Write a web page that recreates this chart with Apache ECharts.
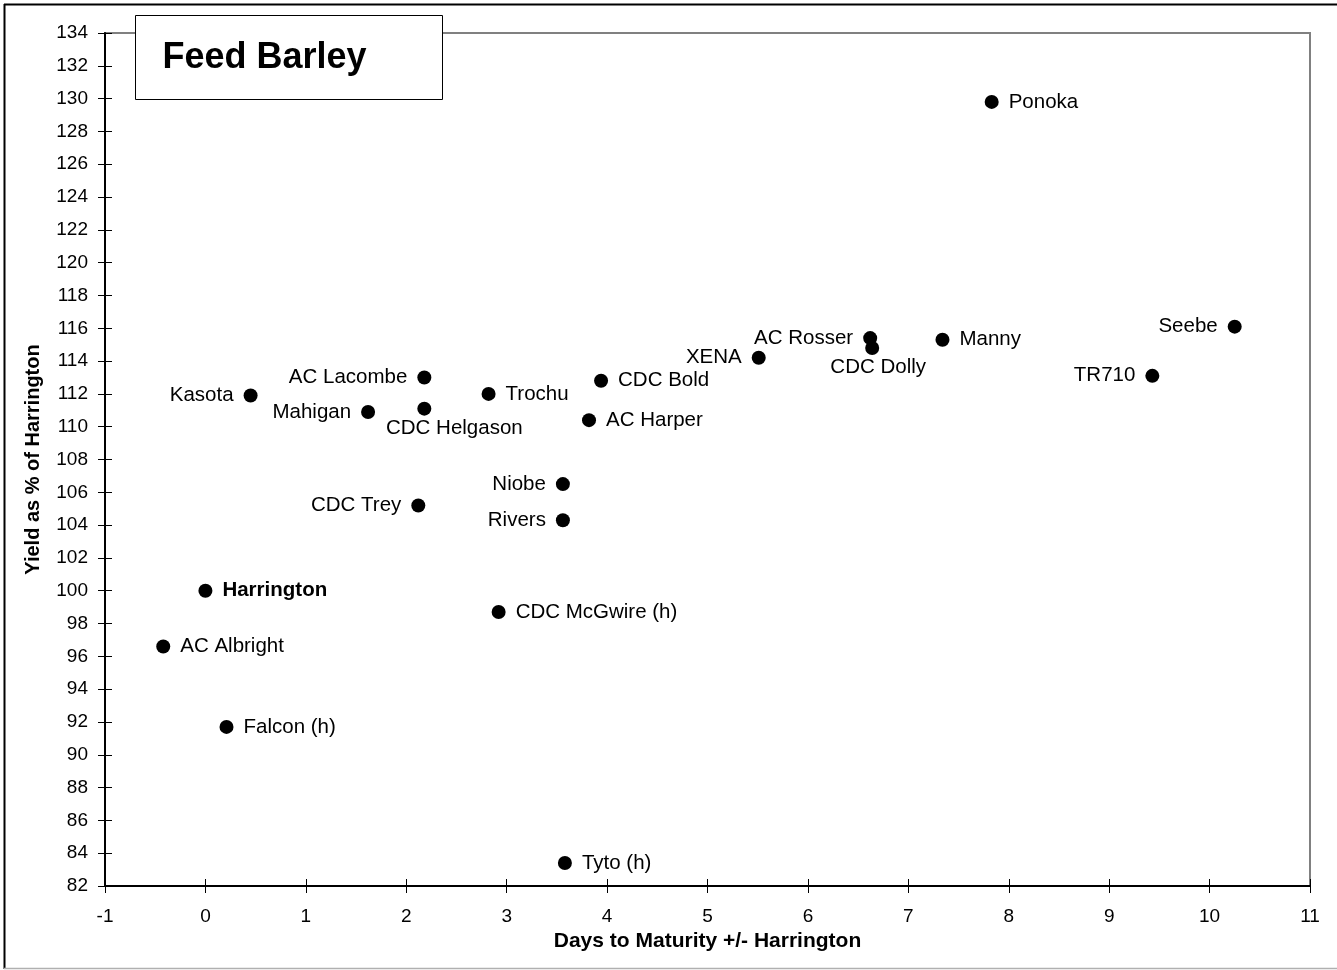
<!DOCTYPE html>
<html>
<head>
<meta charset="utf-8">
<script src="https://cdn.jsdelivr.net/npm/echarts@6/dist/echarts.min.js"></script>
<style>
html,body{margin:0;padding:0;background:#fff;}
#chart{width:1337px;height:970px;}
</style>
</head>
<body>
<div id="chart"></div>
<script>
// ---- data ----
var varieties = ["Ponoka","Seebe","TR710","Manny","AC Rosser","CDC Dolly","XENA","CDC Bold","AC Harper","Trochu","AC Lacombe","CDC Helgason","Mahigan","Kasota","Niobe","Rivers","CDC Trey","Harrington","CDC McGwire (h)","AC Albright","Falcon (h)","Tyto (h)"];
var daysToMaturity = [7.83,10.25,9.43,7.34,6.62,6.64,5.51,3.94,3.82,2.82,2.18,2.18,1.62,0.45,3.56,3.56,2.12,0,2.92,-0.42,0.21,3.58];
var yieldPct = [129.8,116.1,113.1,115.3,115.4,114.8,114.2,112.8,110.4,112.0,113.0,111.1,110.9,111.9,106.5,104.3,105.2,100,98.7,96.6,91.7,83.4];
var xTicks = {min:-1,max:11,step:1};
var yTicks = {min:82,max:134,step:2};
var chartTitle = "Feed Barley";
var xTitle = "Days to Maturity +/- Harrington";
var yTitle = "Yield as % of Harrington";

// ---- label placement (style) ----
var leftLabels = ["Seebe","TR710","AC Rosser","XENA","AC Lacombe","Mahigan","Kasota","Niobe","Rivers","CDC Trey"];
var belowLabels = {"CDC Helgason":[30,0],"CDC Dolly":[6,0]};

var FONT = "Liberation Sans, Arial, sans-serif";
var points = varieties.map(function(n,i){
  var lab = {show:true, formatter:n, position:'right', distance:10, fontSize:20.5, fontFamily:FONT, color:'#000'};
  if (leftLabels.indexOf(n) >= 0) lab.position = 'left';
  if (belowLabels[n]) { lab.position = 'bottom'; lab.distance = 2; lab.offset = belowLabels[n]; }
  if (n === "Harrington") lab.fontWeight = 'bold';
  return {name:n, value:[daysToMaturity[i], yieldPct[i]], label:lab};
});

var chart = echarts.init(document.getElementById('chart'), null, {renderer:'canvas'});
var axisLabelStyle = {fontSize:19, fontFamily:FONT, color:'#000'};
var option = {
  animation:false,
  backgroundColor:'#fff',
  grid:{left:105, top:33, right:27, bottom:84, show:true, borderColor:'#808080', borderWidth:2, backgroundColor:'transparent'},
  xAxis:[{
    type:'value', min:xTicks.min, max:xTicks.max, interval:xTicks.step, position:'bottom',
    splitLine:{show:false},
    axisLine:{show:true, onZero:false, lineStyle:{color:'#000', width:2}},
    axisTick:{show:true, length:7, lineStyle:{color:'#000', width:1}},
    axisLabel:Object.assign({margin:21}, axisLabelStyle),
    name:xTitle, nameLocation:'middle', nameGap:45,
    nameTextStyle:{fontSize:21, fontWeight:'bold', fontFamily:FONT, color:'#000'}
  },{
    type:'value', min:xTicks.min, max:xTicks.max, interval:xTicks.step, position:'bottom', offset:0,
    splitLine:{show:false},
    axisLine:{show:true, onZero:false, lineStyle:{color:'rgba(0,0,0,0)', width:0}},
    axisTick:{show:true, inside:true, length:7, lineStyle:{color:'#000', width:1}},
    axisLabel:{show:false}
  }],
  yAxis:[{
    type:'value', min:yTicks.min, max:yTicks.max, interval:yTicks.step, position:'left',
    splitLine:{show:false},
    axisLine:{show:true, onZero:false, lineStyle:{color:'#000', width:2}},
    axisTick:{show:true, length:7, lineStyle:{color:'#000', width:1}},
    axisLabel:Object.assign({margin:17}, axisLabelStyle),
    name:yTitle, nameLocation:'middle', nameGap:62, nameRotate:90,
    nameTextStyle:{fontSize:20, fontWeight:'bold', fontFamily:FONT, color:'#000'}
  },{
    type:'value', min:yTicks.min, max:yTicks.max, interval:yTicks.step, position:'left', offset:0,
    splitLine:{show:false},
    axisLine:{show:true, onZero:false, lineStyle:{color:'rgba(0,0,0,0)', width:0}},
    axisTick:{show:true, inside:true, length:7, lineStyle:{color:'#000', width:1}},
    axisLabel:{show:false}
  }],
  series:[{
    type:'scatter', xAxisIndex:0, yAxisIndex:0,
    symbol:'circle', symbolSize:14,
    itemStyle:{color:'#000', opacity:1},
    data:points
  }],
  graphic:[
    {type:'line', shape:{x1:4,y1:4.5,x2:1337,y2:4.5}, style:{stroke:'#000', lineWidth:2}, silent:true},
    {type:'line', shape:{x1:4.5,y1:4,x2:4.5,y2:969}, style:{stroke:'#000', lineWidth:2}, silent:true},
    {type:'line', shape:{x1:4,y1:968.5,x2:1337,y2:968.5}, style:{stroke:'#b0b0b0', lineWidth:1.5}, silent:true},
    {type:'group', left:135, top:15, z:100, children:[
      {type:'rect', shape:{x:0,y:0,width:307,height:84}, style:{fill:'#fff', stroke:'#000', lineWidth:1}},
      {type:'text', x:27, y:43, style:{text:chartTitle, font:'bold 36px '+FONT, fill:'#000', verticalAlign:'middle', align:'left'}}
    ]}
  ]
};
chart.setOption(option);
</script>
</body>
</html>
